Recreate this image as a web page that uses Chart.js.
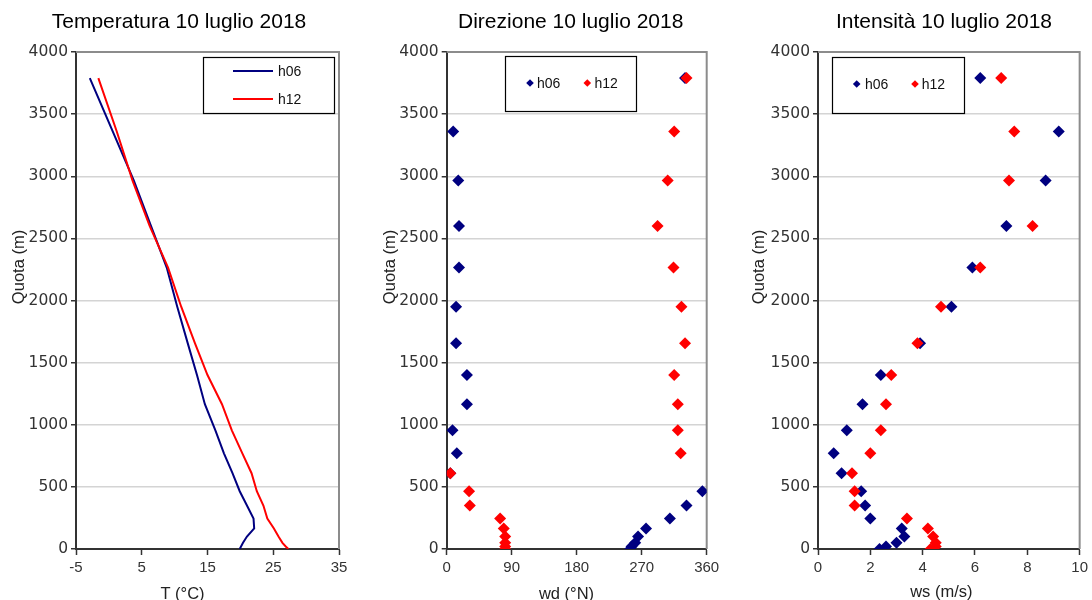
<!DOCTYPE html>
<html>
<head>
<meta charset="utf-8">
<script src="https://cdn.jsdelivr.net/npm/chart.js@4.4.1/dist/chart.umd.min.js"></script>
<style>
html,body{margin:0;padding:0;background:#fff;width:1092px;height:600px;overflow:hidden;}
canvas{position:absolute;top:0;}
</style>
</head>
<body>
<canvas id="c1" width="364" height="600" style="left:0px"></canvas>
<canvas id="c2" width="364" height="600" style="left:364px"></canvas>
<canvas id="c3" width="364" height="600" style="left:728px"></canvas>
<script>
// ---------- data ----------
const seriesNames = ['h06', 'h12'];
const levels   = [0, 20, 50, 100, 165, 245, 350, 465, 610, 770, 955, 1165, 1400, 1655, 1950, 2265, 2600, 2965, 3360, 3790];
const tempH06  = [19.9, 20.1, 20.4, 21.0, 22.1, 22.0, 21.0, 19.9, 18.8, 17.5, 16.2, 14.6, 13.4, 12.0, 10.4, 8.8, 6.4, 3.8, 0.6, -2.9];
const tempH12  = [27.3, 26.9, 26.4, 25.8, 25.1, 24.1, 23.5, 22.5, 21.7, 20.3, 18.7, 17.2, 15.0, 13.1, 11.0, 9.0, 6.2, 3.6, 1.2, -1.6];
const dirH06   = [254, 256, 261, 265, 276, 309, 332, 354, 5, 14, 8, 28, 28, 13, 13, 17, 17, 16, 9, 330];
const dirH12   = [81, 81, 81, 81, 79, 74, 32, 31, 5, 324, 320, 320, 315, 330, 325, 314, 292, 306, 315, 332];
const wsH06    = [2.35, 2.6, 3.0, 3.3, 3.2, 2.0, 1.8, 1.65, 0.9, 0.6, 1.1, 1.7, 2.4, 3.9, 5.1, 5.9, 7.2, 8.7, 9.2, 6.2];
const wsH12    = [4.3, 4.5, 4.5, 4.4, 4.2, 3.4, 1.4, 1.4, 1.3, 2.0, 2.4, 2.6, 2.8, 3.8, 4.7, 6.2, 8.2, 7.3, 7.5, 7.0];
const altTicks  = [0, 500, 1000, 1500, 2000, 2500, 3000, 3500, 4000];
const tempTicks = [-5, 5, 15, 25, 35];
const dirTicks  = [0, 90, 180, 270, 360];
const wsTicks   = [0, 2, 4, 6, 8, 10];
const titles    = ['Temperatura 10 luglio 2018', 'Direzione 10 luglio 2018', 'Intensità 10 luglio 2018'];
const xTitles   = ['T (°C)', 'wd (°N)', 'ws (m/s)'];
const yTitle    = 'Quota (m)';

// ---------- helpers ----------
const NAVY = '#000080', RED = '#ff0000';
const FONT = '"Liberation Sans", Arial, sans-serif';
function pts(xs) { return xs.map((v, i) => ({x: v, y: levels[i]})); }

function decor(cfg) {
  return {
    id: 'decor' + cfg.key,
    beforeDatasetsDraw(chart) {
      const {ctx, chartArea: a} = chart;
      ctx.save();
      ctx.strokeStyle = '#8c8c8c';
      ctx.lineWidth = 2;
      ctx.beginPath();
      ctx.moveTo(a.left, a.top); ctx.lineTo(a.right, a.top); ctx.lineTo(a.right, a.bottom);
      ctx.stroke();
      ctx.restore();
    },
    afterDraw(chart) {
      const ctx = chart.ctx;
      ctx.save();
      // chart title
      ctx.fillStyle = '#000';
      ctx.font = '21px ' + FONT;
      ctx.textAlign = 'center';
      ctx.textBaseline = 'alphabetic';
      ctx.fillText(cfg.title, cfg.titleX, 28);
      // x title
      ctx.font = '16.5px ' + FONT;
      ctx.fillStyle = '#222';
      ctx.fillText(cfg.xTitle, cfg.xTitleX, cfg.xTitleY);
      // y title
      ctx.save();
      ctx.translate(cfg.yTitleX, 267);
      ctx.rotate(-Math.PI / 2);
      ctx.fillText(yTitle, 0, 0);
      ctx.restore();
      // legend box
      const L = cfg.legend;
      ctx.fillStyle = '#fff';
      ctx.fillRect(L.x, L.y, L.w, L.h);
      ctx.strokeStyle = '#000';
      ctx.lineWidth = 1.2;
      ctx.strokeRect(L.x + 0.5, L.y + 0.5, L.w, L.h);
      ctx.font = '14px ' + FONT;
      ctx.textAlign = 'left';
      ctx.textBaseline = 'middle';
      chart.data.datasets.forEach((ds, i) => {
        const it = L.items[i];
        if (L.kind === 'line') {
          ctx.strokeStyle = ds.borderColor;
          ctx.lineWidth = 2;
          ctx.beginPath(); ctx.moveTo(it.sx, it.y); ctx.lineTo(it.ex, it.y); ctx.stroke();
        } else {
          const r = 3.8;
          ctx.fillStyle = ds.backgroundColor;
          ctx.beginPath();
          ctx.moveTo(it.mx, it.y - r); ctx.lineTo(it.mx + r, it.y);
          ctx.lineTo(it.mx, it.y + r); ctx.lineTo(it.mx - r, it.y);
          ctx.closePath(); ctx.fill();
        }
        ctx.fillStyle = '#111';
        ctx.fillText(ds.label, it.tx, it.y + 1);
      });
      ctx.restore();
    }
  };
}

function makeChart(id, cfg) {
  const isLine = cfg.kind === 'line';
  const datasets = cfg.series.map((s, i) => ({
    label: seriesNames[i],
    data: pts(s),
    showLine: isLine,
    borderColor: i === 0 ? NAVY : RED,
    backgroundColor: i === 0 ? NAVY : RED,
    borderWidth: isLine ? 2 : 0,
    pointRadius: isLine ? 0 : 6,
    pointHoverRadius: isLine ? 0 : 6,
    pointStyle: 'rectRot',
    tension: 0,
    order: i === 0 ? 2 : 1
  }));
  return new Chart(document.getElementById(id), {
    type: 'scatter',
    data: {datasets},
    options: {
      responsive: false,
      animation: false,
      events: [],
      layout: {padding: {top: 52, right: 364 - cfg.right, bottom: 0, left: 0}},
      plugins: {legend: {display: false}, title: {display: false}, tooltip: {enabled: false}},
      scales: {
        x: {
          type: 'linear',
          min: cfg.xTicks[0], max: cfg.xTicks[cfg.xTicks.length - 1],
          afterBuildTicks: s => { s.ticks = cfg.xTicks.map(v => ({value: v})); },
          afterFit: s => { s.height = 51; },
          grid: {drawOnChartArea: false, drawTicks: true, tickLength: 6, tickColor: '#333', tickWidth: 1.5},
          border: {color: '#333', width: 2},
          ticks: {font: {family: FONT, size: 15}, color: '#333', padding: 4, maxRotation: 0, autoSkip: false,
                  callback: v => String(v)}
        },
        y: {
          type: 'linear',
          min: 0, max: 4000,
          afterBuildTicks: s => { s.ticks = altTicks.map(v => ({value: v})); },
          afterFit: s => { s.width = cfg.left; },
          grid: {color: '#d4d4d4', lineWidth: 1.5, drawTicks: true, tickLength: 5, tickColor: '#333', tickWidth: 1.5},
          border: {color: '#333', width: 2},
          ticks: {font: {family: '"DejaVu Sans", sans-serif', size: 15.5}, color: '#333', padding: 3, autoSkip: false,
                  callback: v => String(v)}
        }
      }
    },
    plugins: [decor(cfg)]
  });
}

makeChart('c1', {
  key: 1, kind: 'line', series: [tempH06, tempH12], xTicks: tempTicks,
  left: 76, right: 339,
  title: titles[0], titleX: 179, xTitle: xTitles[0], xTitleX: 182.5, xTitleY: 599, yTitleX: 23.5,
  legend: {kind: 'line', x: 203, y: 57, w: 131, h: 56,
    items: [{sx: 233, ex: 273, tx: 278, y: 71}, {sx: 233, ex: 273, tx: 278, y: 99}]}
});
makeChart('c2', {
  key: 2, kind: 'point', series: [dirH06, dirH12], xTicks: dirTicks,
  left: 82.7, right: 342.7,
  title: titles[1], titleX: 206.7, xTitle: xTitles[1], xTitleX: 202.5, xTitleY: 599, yTitleX: 31,
  legend: {kind: 'point', x: 141, y: 56, w: 131, h: 55,
    items: [{mx: 166, tx: 173, y: 83}, {mx: 223.3, tx: 230.5, y: 83}]}
});
makeChart('c3', {
  key: 3, kind: 'point', series: [wsH06, wsH12], xTicks: wsTicks,
  left: 90, right: 355,
  title: titles[2], titleX: 216, xTitle: xTitles[2], xTitleX: 213.3, xTitleY: 597, yTitleX: 35.5,
  legend: {kind: 'point', x: 104, y: 57, w: 132, h: 56,
    items: [{mx: 128.7, tx: 137, y: 84}, {mx: 187, tx: 193.7, y: 84}]}
});
</script>
</body>
</html>
